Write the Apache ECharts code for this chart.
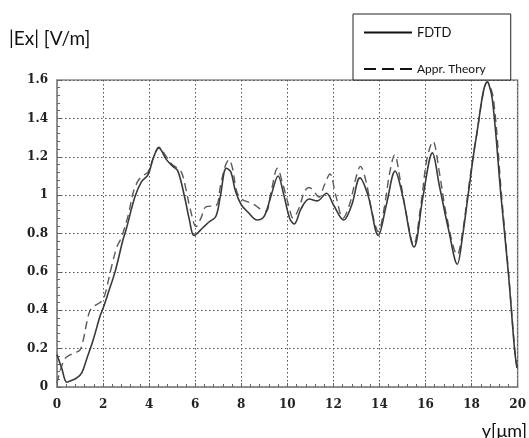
<!DOCTYPE html>
<html>
<head>
<meta charset="utf-8">
<script src="https://cdn.jsdelivr.net/npm/echarts@6/dist/echarts.min.js"></script>
<style>
html,body{margin:0;padding:0;background:#fff;}
#chart{width:529px;height:438px;}
</style>
</head>
<body>
<div id="chart"></div>
<script>
// FDTD (solid) samples: y position [um] and |Ex| [V/m]
var fdtdX = [0,0.2,0.43,0.65,0.86,1.08,1.3,1.57,1.87,2.0,2.25,2.52,2.87,3.0,3.38,3.67,3.95,4.2,4.42,4.75,5.03,5.25,5.54,5.75,5.95,6.33,6.6,6.9,7.1,7.35,7.55,7.75,8.0,8.3,8.7,9.0,9.3,9.6,9.85,10.1,10.3,10.6,10.95,11.3,11.7,12.0,12.45,12.8,13.15,13.5,13.95,14.3,14.68,15.0,15.5,15.9,16.3,16.6,17.0,17.38,17.6,17.85,18.2,18.68,18.9,19.28,19.6,19.87,19.97];
var fdtdY = [0.17,0.1,0.025,0.035,0.047,0.075,0.15,0.245,0.37,0.41,0.5,0.6,0.77,0.82,0.99,1.07,1.106,1.2,1.246,1.185,1.15,1.125,0.99,0.87,0.79,0.83,0.86,0.89,1.0,1.14,1.12,1.02,0.95,0.91,0.87,0.89,1.0,1.1,1.0,0.88,0.85,0.93,0.98,0.97,1.01,0.95,0.87,0.95,1.09,1.0,0.79,0.95,1.125,1.0,0.73,1.0,1.22,1.05,0.82,0.64,0.78,1.0,1.3,1.59,1.5,0.99,0.59,0.19,0.1];
// Approximate theory (dashed) samples
var theoX = [0,0.15,0.36,0.57,0.8,1.0,1.15,1.3,1.44,1.65,1.87,2.05,2.37,2.6,2.8,3.1,3.3,3.5,3.7,3.95,4.2,4.42,4.75,5.0,5.18,5.4,5.6,5.8,6.04,6.25,6.48,6.9,7.1,7.3,7.47,7.62,7.8,8.0,8.5,8.8,9.07,9.3,9.57,9.8,10.05,10.25,10.5,10.75,10.95,11.15,11.37,11.6,11.85,12.1,12.42,12.7,13.0,13.17,13.4,13.7,13.95,14.2,14.45,14.66,14.9,15.2,15.48,15.8,16.05,16.32,16.6,16.9,17.38,17.6,17.85,18.2,18.7,18.95,19.3,19.6,19.87,19.97];
var theoY = [0.02,0.09,0.15,0.167,0.18,0.193,0.25,0.34,0.40,0.425,0.44,0.47,0.628,0.73,0.78,0.9,1.01,1.07,1.1,1.12,1.2,1.25,1.2,1.16,1.145,1.12,1.03,0.92,0.836,0.88,0.94,0.945,1.05,1.15,1.185,1.14,1.02,0.98,0.955,0.93,0.915,1.02,1.14,1.06,0.95,0.88,0.93,1.02,1.04,1.02,0.99,1.05,1.11,1.0,0.88,0.95,1.1,1.15,1.08,0.9,0.81,0.93,1.12,1.21,1.08,0.88,0.74,0.95,1.18,1.28,1.12,0.9,0.69,0.8,1.02,1.3,1.59,1.5,1.0,0.6,0.2,0.1];
var seriesNames = ['FDTD','Appr. Theory'];
var yTitle = '|Ex| [V/m]';
var xTitle = 'y[\u03bcm]';

function pairs(xs, ys){ var out=[]; for(var i=0;i<xs.length;i++){ out.push([xs[i], ys[i]]); } return out; }

var chart = echarts.init(document.getElementById('chart'), null, {renderer:'canvas'});
var axisFont = {fontFamily:'DejaVu Serif', fontWeight:'bold', fontSize:12, color:'#222'};
var gridLine = {show:true, lineStyle:{type:[1.5,2.5], color:'#555', width:1}};
chart.setOption({
  animation:false,
  backgroundColor:'#fff',
  grid:{left:57, right:9, top:80, bottom:51, show:true, borderColor:'#8a8a8a', borderWidth:1.5, backgroundColor:'transparent'},
  legend:{
    orient:'vertical', left:353, top:14,
    backgroundColor:'#fff', borderColor:'#222', borderWidth:1,
    padding:[12,25,5,10], itemGap:24, itemWidth:48, itemHeight:14,
    textStyle:{fontFamily:'Lato', fontSize:12, color:'#111'},
    itemStyle:{opacity:0},
    data:[
      {name:seriesNames[0], textStyle:{fontSize:13}, itemStyle:{opacity:0}, lineStyle:{color:'#111', width:2, type:'solid'}},
      {name:seriesNames[1], itemStyle:{opacity:0}, lineStyle:{color:'#111', width:2, type:[12,6]}}
    ],
    z:10
  },
  graphic:[
    {type:'text', left:9, top:29, style:{text:yTitle, fontFamily:'Lato', fontSize:19, fill:'#111'}},
    {type:'text', right:2, top:422, style:{text:xTitle, fontFamily:'Lato', fontSize:18, fill:'#111'}}
  ],
  xAxis:{
    type:'value', min:0, max:20, interval:2,
    axisLine:{show:true, lineStyle:{color:'#8a8a8a', width:1.5}},
    axisTick:{show:true, inside:true, length:4, lineStyle:{color:'#666'}},
    minorTick:{show:true, splitNumber:5, length:3, lineStyle:{color:'#666'}},
    axisLabel:Object.assign({margin:12}, axisFont),
    splitLine:gridLine
  },
  yAxis:{
    type:'value', min:0, max:1.6, interval:0.2,
    axisLine:{show:true, lineStyle:{color:'#8a8a8a', width:1.5}},
    axisTick:{show:true, inside:true, length:4, lineStyle:{color:'#666'}},
    minorTick:{show:true, splitNumber:5, length:3, lineStyle:{color:'#666'}},
    axisLabel:Object.assign({margin:9}, axisFont),
    splitLine:gridLine
  },
  series:[
    {name:seriesNames[0], type:'line', data:pairs(fdtdX,fdtdY), symbol:'none', smooth:0.35,
     itemStyle:{color:'#3a3a3a'}, lineStyle:{color:'#3a3a3a', width:1.6}, z:3},
    {name:seriesNames[1], type:'line', data:pairs(theoX,theoY), symbol:'none', smooth:0.35,
     itemStyle:{color:'#5a5a5a'}, lineStyle:{color:'#5a5a5a', width:1.4, type:[8,5]}, z:2}
  ]
});
</script>
</body>
</html>
